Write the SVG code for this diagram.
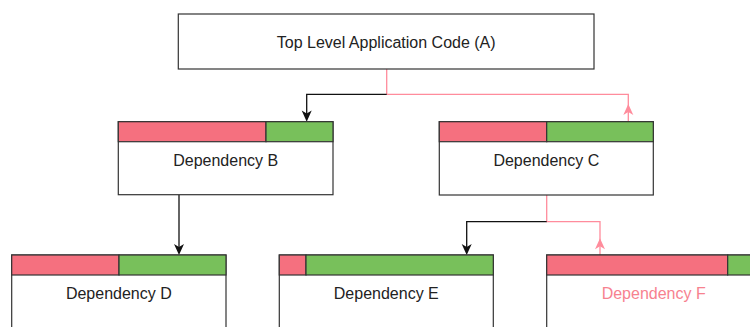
<svg xmlns="http://www.w3.org/2000/svg" width="750" height="327" viewBox="0 0 750 327">
<style>
.box{fill:#fff;stroke:#333;stroke-width:1.2}
.red{fill:#F5707F;stroke:#333;stroke-width:1.2}
.green{fill:#78C05B;stroke:#333;stroke-width:1.2}
.lbl{font-family:"Liberation Sans",Arial,Helvetica,sans-serif;font-size:16px;fill:#222;text-anchor:middle}
.pinktxt{fill:#F7828F}
.blk{fill:none;stroke:#111;stroke-width:1.3}
.pnk{fill:none;stroke:#FF8C9C;stroke-width:1.3}
.ahb{fill:#111}
.ahp{fill:#FF8C9C}
</style>
<rect width="750" height="327" fill="#fff"/>
<g id="connectors">
<path class="pnk" d="M386.7,69 V94.3 H628.3 V121.7"/>
<path class="blk" d="M386.7,94.3 H306.7 V114"/>
<polygon class="ahb" points="306.7,121.7 301.7,110.5 306.7,113.5 311.7,110.5"/>
<polygon class="ahp" points="628.3,104 623.3,115 628.3,112 633.3,115"/>
<path class="blk" d="M179,194.7 V247"/>
<polygon class="ahb" points="179,255 174,244 179,247 184,244"/>
<path class="pnk" d="M546.7,195 V221.7 H600 V255"/>
<path class="blk" d="M546.7,221.7 H466.7 V247"/>
<polygon class="ahb" points="466.7,255 461.7,244 466.7,247 471.7,244"/>
<polygon class="ahp" points="600,238.3 595,249.3 600,246.3 605,249.3"/>
</g>
<g id="nodeA">
<rect class="box" x="178.3" y="14" width="415.7" height="55"/>
<text class="lbl" x="386.2" y="48">Top Level Application Code (A)</text>
</g>
<g id="nodeB">
<rect class="box" x="118.3" y="121.7" width="214.7" height="73"/>
<rect class="red" x="118.3" y="121.7" width="147.7" height="20"/>
<rect class="green" x="266" y="121.7" width="67" height="20"/>
<text class="lbl" x="225.7" y="165.5">Dependency B</text>
</g>
<g id="nodeC">
<rect class="box" x="439.3" y="121.7" width="214" height="73.3"/>
<rect class="red" x="439.3" y="121.7" width="107.4" height="20"/>
<rect class="green" x="546.7" y="121.7" width="106.6" height="20"/>
<text class="lbl" x="546.3" y="165.5">Dependency C</text>
</g>
<g id="nodeD">
<rect class="box" x="11.7" y="255" width="214.3" height="90"/>
<rect class="red" x="11.7" y="255" width="107.3" height="20"/>
<rect class="green" x="119" y="255" width="107" height="20"/>
<text class="lbl" x="118.8" y="299">Dependency D</text>
</g>
<g id="nodeE">
<rect class="box" x="279.3" y="255" width="214" height="90"/>
<rect class="red" x="279.3" y="255" width="26.7" height="20"/>
<rect class="green" x="306" y="255" width="187.3" height="20"/>
<text class="lbl" x="386.3" y="299">Dependency E</text>
</g>
<g id="nodeF">
<rect class="box" x="546.7" y="255" width="214" height="90"/>
<rect class="red" x="546.7" y="255" width="181" height="20"/>
<rect class="green" x="727.7" y="255" width="33" height="20"/>
<text class="lbl pinktxt" x="653.7" y="299">Dependency F</text>
</g>
</svg>
